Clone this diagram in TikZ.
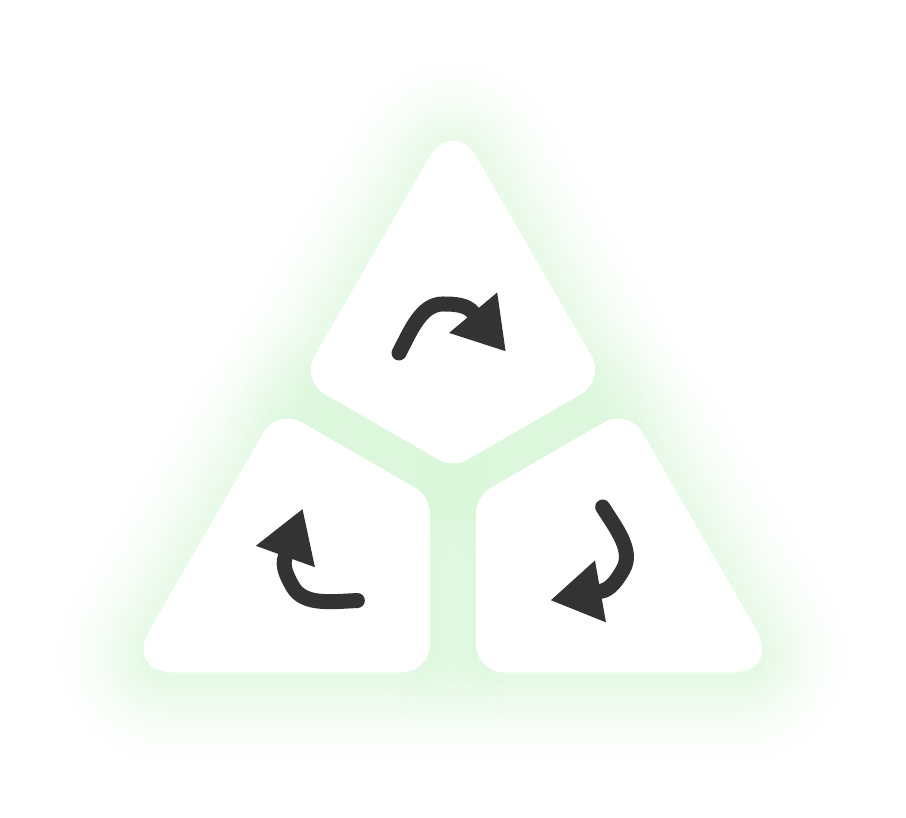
\documentclass[tikz,border=0pt]{standalone}
\usepackage{xcolor}
\usetikzlibrary{arrows.meta}

\definecolor{glow}{RGB}{150,231,150}
\definecolor{ink}{RGB}{51,51,51}

\newcommand\kite{(-76.2,220) [rounded corners=48.5] -- (0,352)
  [rounded corners=28] -- (152.4,88) [rounded corners=16] -- (0,0)
  [rounded corners=28] -- (-152.4,88) -- cycle}

\tikzset{
  piece/.style 2 args={shift={(#1:#2)}, rotate=#1-90},
  halo/.style={line width=#1, line join=round},
  whirl/.style={ink, line width=15, line cap=round, -{Triangle[length=51pt, width=59pt]}}
}

\begin{document}
\begin{tikzpicture}[x=1pt, y=1pt]
\useasboundingbox (0,0) rectangle (906,818);
\begin{scope}[shift={(453,335)}]
\foreach \k in {26,...,1}{
  \pgfmathsetmacro\o{0.02*exp(0-(4*\k)*(4*\k)/4232)}
  \foreach \a/\d in {90/15,210/26.6,330/26.6}
    \draw[glow, opacity=\o, halo=8*\k, yshift=-6, piece={\a}{\d}] \kite;
}
\foreach \a/\d in {90/15,210/26.6,330/26.6}{
  \begin{scope}[piece={\a}{\d}]
  \fill[white] \kite;
  \coordinate (tail) at (-54,115);
  \coordinate (crest) at (-10,164);
  \coordinate (neck) at (20,155.5);
  \coordinate (tip) at (53,116.3);
  \draw[whirl] (tail) .. controls (-42.3,137.1) and (-32,164) .. (crest)
    .. controls (2,164) and (13.6,163.2) .. (neck) -- (tip);
  \end{scope}
}
\end{scope}
\end{tikzpicture}
\end{document}
